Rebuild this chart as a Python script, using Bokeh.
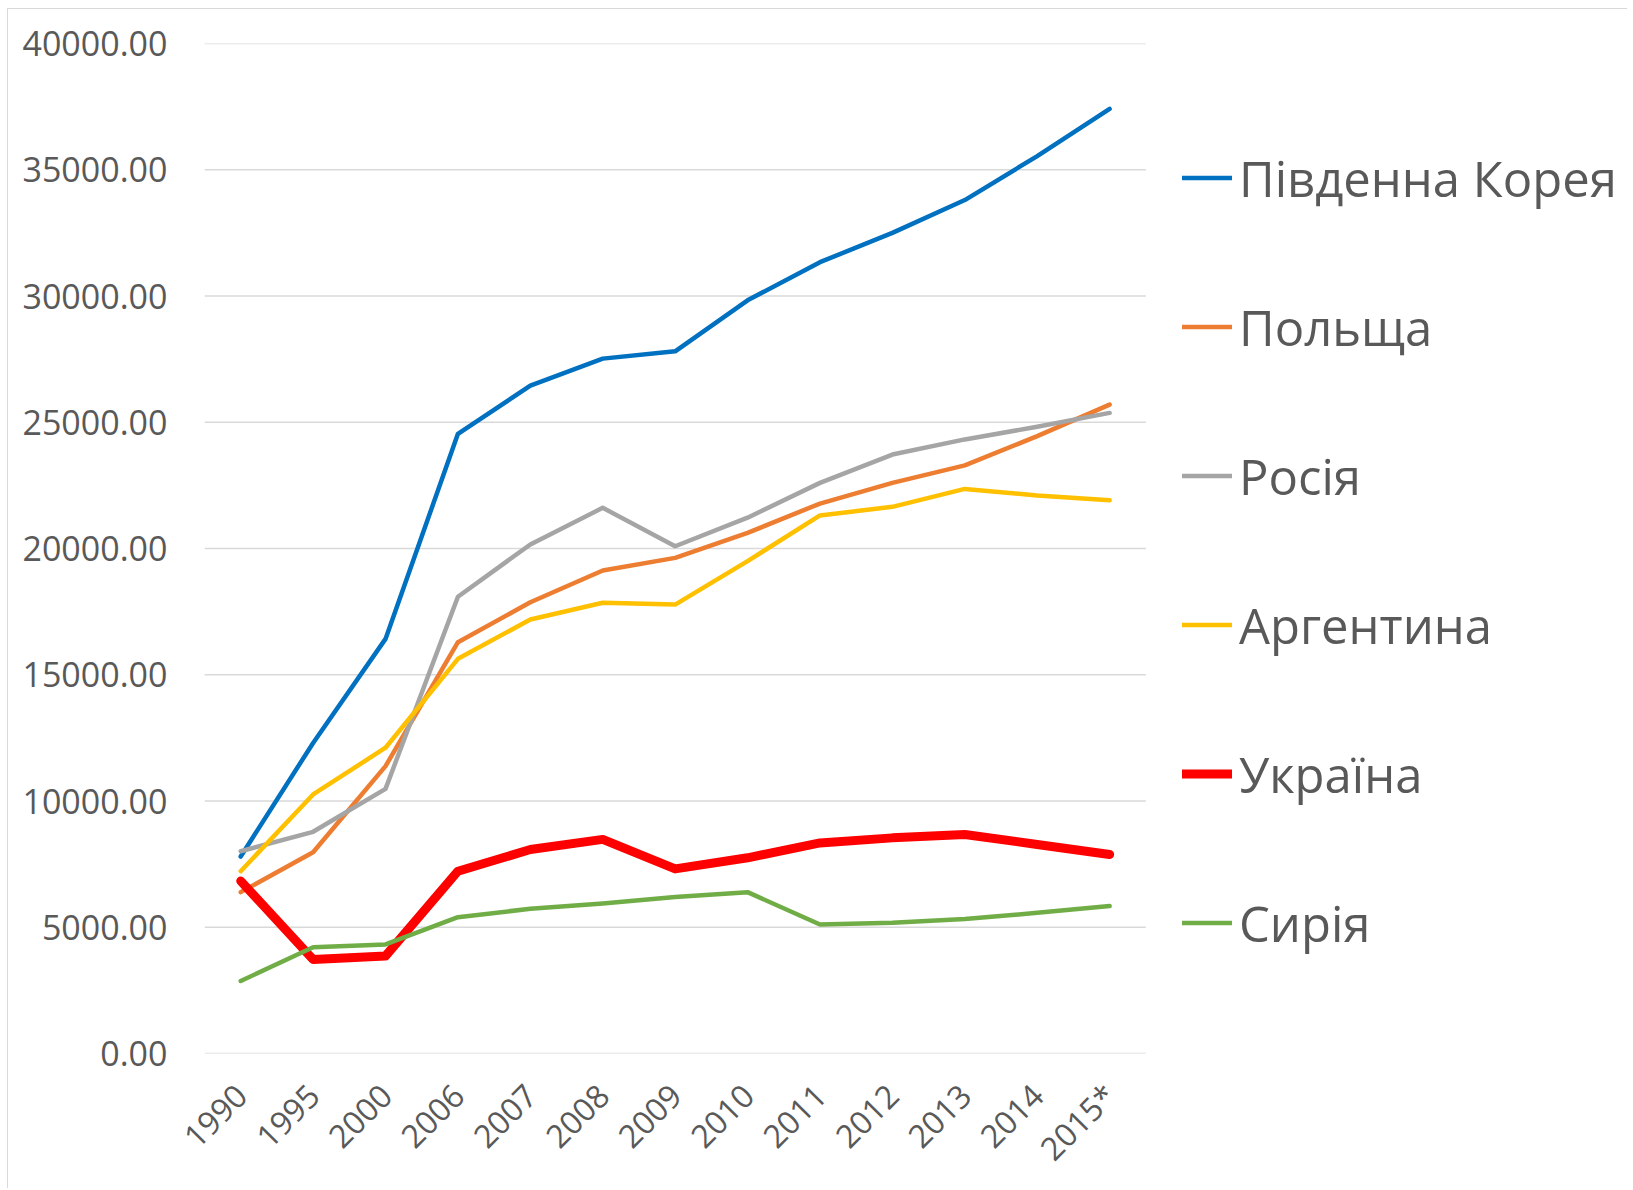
import math
from bokeh.plotting import figure
from bokeh.models import Range1d, Legend, LegendItem, FixedTicker, NumeralTickFormatter
from bokeh.embed import file_html
from bokeh.resources import INLINE

years = ["1990", "1995", "2000", "2006", "2007", "2008", "2009", "2010", "2011", "2012", "2013", "2014", "2015*"]

korea = [7800, 12300, 16420, 24540, 26450, 27520, 27810, 29830, 31340, 32500, 33800, 35540, 37410]
poland = [6390, 7970, 11380, 16290, 17870, 19130, 19630, 20620, 21780, 22600, 23290, 24450, 25700]
russia = [8010, 8780, 10480, 18090, 20160, 21610, 20090, 21220, 22600, 23720, 24320, 24820, 25370]
argentina = [7220, 10260, 12110, 15630, 17190, 17850, 17780, 19500, 21310, 21650, 22360, 22100, 21910]
ukraine = [6830, 3720, 3860, 7220, 8080, 8480, 7310, 7750, 8340, 8540, 8670, 8280, 7880]
syria = [2870, 4210, 4320, 5400, 5730, 5940, 6200, 6390, 5110, 5180, 5330, 5570, 5840]

names = ["Південна Корея", "Польща", "Росія", "Аргентина", "Україна", "Сирія"]
series = [korea, poland, russia, argentina, ukraine, syria]
colors = ["#0070C0", "#ED7D31", "#A5A5A5", "#FFC000", "#FF0000", "#70AD47"]
widths = [4.5, 4.5, 4.5, 4.5, 9, 4.5]

y_ticks = [0, 5000, 10000, 15000, 20000, 25000, 30000, 35000, 40000]

FONT = "Open Sans"
TXT = "#595959"
W, H = 1620, 1180
OX, OY = 8.5, 9.5          # content origin on the page (margin + border)
PLOT_L, PLOT_R = 205, 1146  # visible plot area (page px)
PLOT_T, PLOT_B = 44, 1054

idx = list(range(len(years)))
unit = (PLOT_R - PLOT_L) / len(years)
x_end = -0.5 + (OX + W - PLOT_L) / unit

p = figure(
    x_range=Range1d(-0.5, x_end),
    y_range=Range1d(0, 40000),
    width=W, height=H,
    output_backend="svg", toolbar_location=None,
    min_border_left=int(round(PLOT_L - OX)), min_border_top=34,
    min_border_right=0, min_border_bottom=136,
)
p.outline_line_color = None
p.background_fill_color = "white"
p.border_fill_color = "white"
p.styles = {"margin-left": "7px", "margin-top": "8px",
            "border-left": "1.5px solid #D9D9D9", "border-top": "1.5px solid #D9D9D9"}

# horizontal gridlines limited to the category area
p.xgrid.visible = False
p.ygrid.visible = False
p.segment(x0=[-0.5] * len(y_ticks), x1=[len(years) - 0.5] * len(y_ticks), y0=y_ticks, y1=y_ticks,
          line_color="#D9D9D9", line_width=1.5, level="underlay")

p.yaxis.ticker = FixedTicker(ticks=y_ticks)
p.yaxis.formatter = NumeralTickFormatter(format="0.00")
p.xaxis.ticker = FixedTicker(ticks=idx)
p.xaxis.major_label_overrides = {i: y for i, y in zip(idx, years)}
for ax in (p.xaxis, p.yaxis):
    ax.axis_line_color = None
    ax.major_tick_line_color = None
    ax.minor_tick_line_color = None
    ax.major_tick_out = 0
    ax.major_tick_in = 0
    ax.major_label_text_font = FONT
    ax.major_label_text_color = TXT
p.yaxis.major_label_text_font_size = "34px"
p.xaxis.major_label_text_font_size = "32px"
p.yaxis.major_label_standoff = 37
p.xaxis.major_label_standoff = 36
p.xaxis.major_label_orientation = math.pi / 4

items = []
for name, vals, c, w in zip(names, series, colors, widths):
    r = p.line(idx, vals, line_color=c, line_width=w, line_join="round", line_cap="round")
    items.append(LegendItem(label=name, renderers=[r]))

legend = Legend(
    items=items, location=(1183 - PLOT_L, 56),
    glyph_width=50, glyph_height=149, label_height=149, spacing=0,
    padding=0, margin=0, border_line_color=None, background_fill_alpha=0,
    label_standoff=7, label_text_font=FONT, label_text_font_size="49px",
    label_text_color=TXT, label_text_baseline="middle",
)
p.add_layout(legend)

open("out.html", "w").write(file_html(p, INLINE))
